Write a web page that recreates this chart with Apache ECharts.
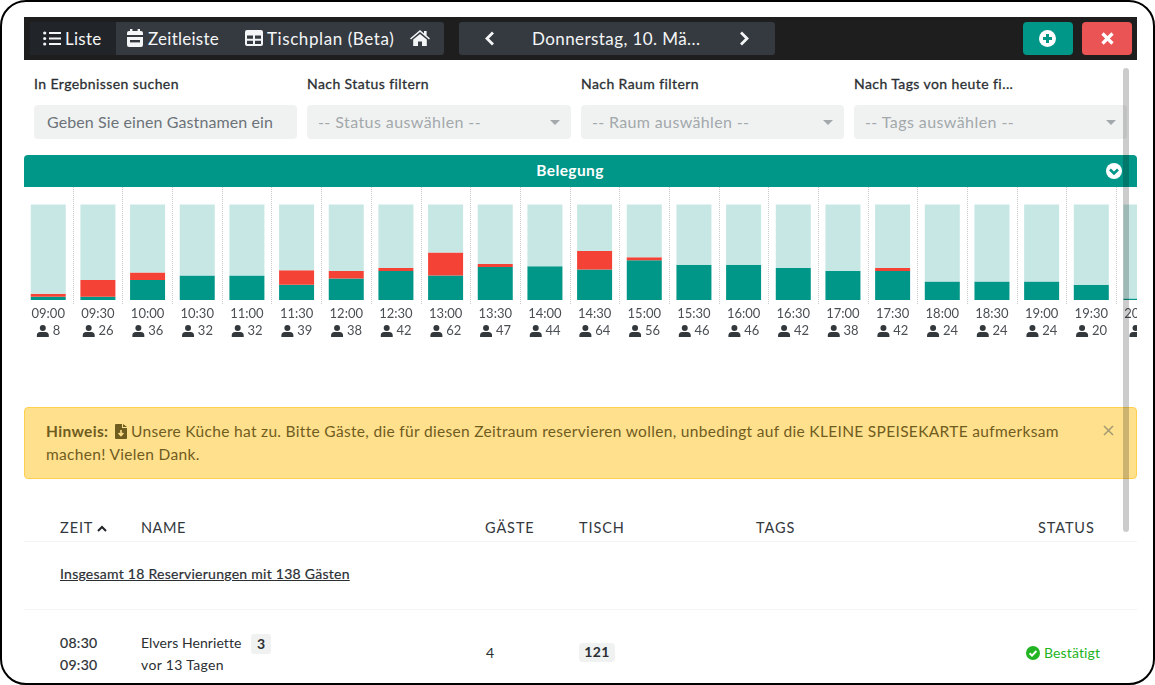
<!DOCTYPE html>
<html lang="de">
<head>
<meta charset="utf-8">
<title>Belegung</title>
<script src="https://cdn.jsdelivr.net/npm/echarts@6/dist/echarts.min.js"></script>
<style>
html,body{margin:0;padding:0;background:#fff;}
body{width:1155px;height:685px;position:relative;overflow:hidden;font-family:Lato,"Noto Sans",sans-serif;color:#212529;}
.a{position:absolute;white-space:nowrap;}
.frame{position:absolute;left:0;top:0;width:1155px;height:685px;box-sizing:border-box;border:2px solid #000;border-radius:26px;pointer-events:none;}
.nav{left:24px;top:17px;width:1113px;height:43px;background:#1e1e1e;}
.grp{top:22px;height:33px;background:#343a40;border-radius:3px;}
.nt{top:22px;height:33px;line-height:33px;color:#f4f5f6;font-size:17px;letter-spacing:.25px;}
.lbl{top:75px;font-size:14px;color:#2b2f33;line-height:17px;letter-spacing:.42px;-webkit-text-stroke:.3px #2b2f33;}
.sel{top:105px;height:34px;line-height:33px;background:#f0f2f2;border-radius:4px;color:#a3a8ab;font-size:16px;box-sizing:border-box;letter-spacing:.42px;}
.car{top:120px;width:0;height:0;border-left:5px solid transparent;border-right:5px solid transparent;border-top:5px solid #a3a8ab;}
.th{top:519px;line-height:17px;font-size:14.5px;color:#33383c;letter-spacing:.9px;}
.hr{left:24px;width:1113px;height:1px;background:#f3f4f4;}
.td{font-size:14px;line-height:18px;color:#2b2f33;}
svg{display:block;}
</style>
</head>
<body>
<div class="a nav"></div>
<div class="a grp" style="left:30px;width:414px"></div>
<div class="a grp" style="left:30px;width:86px;background:#212529;border-radius:3px 0 0 3px"></div>
<svg class="a" style="left:43px;top:31px" width="18" height="15" viewBox="0 0 18 15"><g fill="#f4f5f6"><circle cx="1.7" cy="2" r="1.6"/><circle cx="1.7" cy="7.5" r="1.6"/><circle cx="1.7" cy="13" r="1.6"/><rect x="6" y="1" width="12" height="2"/><rect x="6" y="6.5" width="12" height="2"/><rect x="6" y="12" width="12" height="2"/></g></svg>
<div class="a nt" style="left:65px">Liste</div>
<svg class="a" style="left:127px;top:29px" width="16" height="18" viewBox="0 0 16 18"><g fill="#f4f5f6"><rect x="3" y="0" width="2.4" height="4"/><rect x="10.6" y="0" width="2.4" height="4"/><path d="M0 4q0-2 2-2h12q2 0 2 2v2H0zM0 8h16v8q0 2-2 2H2q-2 0-2-2z"/></g><rect x="3" y="11" width="10" height="2.4" fill="#343a40"/></svg>
<div class="a nt" style="left:148px">Zeitleiste</div>
<svg class="a" style="left:245px;top:30px" width="18" height="16" viewBox="0 0 18 16"><path fill="#f4f5f6" fill-rule="evenodd" d="M2 0h14q2 0 2 2v12q0 2-2 2H2q-2 0-2-2V2q0-2 2-2zM2 5.5v3.2h6V5.5zM10 5.5v3.2h6V5.5zM2 10.7V14h6v-3.3zM10 10.7V14h6v-3.3z"/></svg>
<div class="a nt" style="left:267px;letter-spacing:.58px">Tischplan (Beta)</div>
<svg class="a" style="left:410px;top:30px" width="20" height="16" viewBox="0 0 20 16"><path fill="#f4f5f6" d="M10 0l4 3.4V1h2.6v4.6L20 8.4l-1 1.2L10 2 1 9.6 0 8.4zM3.2 9.6L10 4l6.8 5.6V16h-4.8v-4.5H8V16H3.2z"/></svg>
<div class="a grp" style="left:459px;width:316px"></div>
<svg class="a" style="left:484px;top:31px" width="11" height="15" viewBox="0 0 11 15"><path fill="none" stroke="#f4f5f6" stroke-width="2.8" d="M9 1.5L3 7.5l6 6"/></svg>
<div class="a nt" style="left:532px;letter-spacing:.42px">Donnerstag, 10. Mä...</div>
<svg class="a" style="left:739px;top:31px" width="11" height="15" viewBox="0 0 11 15"><path fill="none" stroke="#f4f5f6" stroke-width="2.8" d="M2 1.5l6 6-6 6"/></svg>
<div class="a" style="left:1023px;top:22px;width:50px;height:33px;background:#009688;border-radius:4px"></div>
<svg class="a" style="left:1039px;top:30px" width="17" height="17" viewBox="0 0 17 17"><circle cx="8.5" cy="8.5" r="8.5" fill="#fff"/><path stroke="#009688" stroke-width="3" d="M8.5 4v9M4 8.5h9"/></svg>
<div class="a" style="left:1082px;top:22px;width:50px;height:33px;background:#ea5455;border-radius:4px"></div>
<svg class="a" style="left:1101px;top:32px" width="13" height="13" viewBox="0 0 13 13"><path stroke="#fff" stroke-width="3.2" d="M1.5 1.5l10 10M11.5 1.5l-10 10"/></svg>

<div class="a lbl" style="left:34px">In Ergebnissen suchen</div>
<div class="a lbl" style="left:307px">Nach Status filtern</div>
<div class="a lbl" style="left:581px">Nach Raum filtern</div>
<div class="a lbl" style="left:854px">Nach Tags von heute fi...</div>
<div class="a sel" style="left:34px;width:263px;padding-left:13px;color:#6c7378;letter-spacing:.1px">Geben Sie einen Gastnamen ein</div>
<div class="a sel" style="left:307px;width:264px;padding-left:11px">-- Status auswählen --</div>
<div class="a sel" style="left:581px;width:263px;padding-left:11px;letter-spacing:.35px">-- Raum auswählen --</div>
<div class="a sel" style="left:854px;width:273px;padding-left:11px">-- Tags auswählen --</div>
<div class="a car" style="left:550px"></div>
<div class="a car" style="left:823px"></div>
<div class="a car" style="left:1106px"></div>

<div class="a" style="left:24px;top:155px;width:1113px;height:32px;background:#009688;border-radius:4px 4px 0 0"></div>
<div class="a" style="left:24px;top:154px;width:1092px;height:32px;line-height:32px;text-align:center;color:#fff;font-size:15.5px;font-weight:700;letter-spacing:.4px">Belegung</div>
<svg class="a" style="left:1106px;top:163px" width="16" height="16" viewBox="0 0 16 16"><circle cx="8" cy="8" r="8" fill="#fff"/><path fill="none" stroke="#009688" stroke-width="2.6" d="M4 6.5l4 4 4-4"/></svg>

<!-- chart is cut off at the right edge like the scrolling strip -->
<div class="a" style="left:24px;top:187px;width:1113px;height:160px;overflow:hidden">
  <div id="belegung" style="position:absolute;left:-1px;top:0;width:1145px;height:160px"></div>
</div>

<div class="a" style="left:24px;top:407px;width:1113px;height:72px;box-sizing:border-box;background:#ffe08c;border:1px solid #ffd050;border-radius:4px"></div>
<div class="a" style="left:46px;top:420px;font-size:15.5px;line-height:23px;color:#6f5c1f;letter-spacing:.32px"><b>Hinweis:</b> <span style="display:inline-block;width:14px"></span> Unsere Küche hat zu. Bitte Gäste, die für diesen Zeitraum reservieren wollen, unbedingt auf die KLEINE SPEISEKARTE aufmerksam<br>machen! Vielen Dank.</div>
<svg class="a" style="left:115px;top:424px" width="12" height="15" viewBox="0 0 12 15"><path fill="#6f5c1f" d="M0 1q0-1 1-1h6v4h5v10q0 1-1 1H1q-1 0-1-1zM8 0l4 3H8z"/><path fill="none" stroke="#ffe08c" stroke-width="1.6" d="M6 6v5M3.6 9L6 11.5 8.4 9"/></svg>
<svg class="a" style="left:1103px;top:425px" width="11" height="11" viewBox="0 0 11 11"><path stroke="#a39a72" stroke-width="1.5" d="M1 1l9 9M10 1l-9 9"/></svg>

<div class="a th" style="left:60px">ZEIT</div>
<svg class="a" style="left:97px;top:525px" width="10" height="7" viewBox="0 0 10 7"><path fill="none" stroke="#212529" stroke-width="2" d="M1 6l4-4 4 4"/></svg>
<div class="a th" style="left:141px;letter-spacing:.55px">NAME</div>
<div class="a th" style="left:485px">GÄSTE</div>
<div class="a th" style="left:579px">TISCH</div>
<div class="a th" style="left:756px">TAGS</div>
<div class="a th" style="left:1038px">STATUS</div>
<div class="a hr" style="top:541px"></div>
<div class="a td" style="left:60px;top:565px;text-decoration:underline;letter-spacing:.26px;-webkit-text-stroke:.2px #2b2f33">Insgesamt 18 Reservierungen mit 138 Gästen</div>
<div class="a hr" style="top:609px"></div>
<div class="a td" style="left:60px;top:634px;letter-spacing:.3px;-webkit-text-stroke:.2px #2b2f33">08:30</div>
<div class="a td" style="left:60px;top:656px;letter-spacing:.3px;-webkit-text-stroke:.2px #2b2f33">09:30</div>
<div class="a td" style="left:141px;top:634px;letter-spacing:.07px">Elvers Henriette</div>
<div class="a" style="left:251px;top:634px;width:20px;height:20px;line-height:19px;text-align:center;background:#f0f1f1;border-radius:3px;font-size:14px;font-weight:700;color:#2b2f33">3</div>
<div class="a td" style="left:141px;top:656px;letter-spacing:.35px">vor 13 Tagen</div>
<div class="a td" style="left:486px;top:644px">4</div>
<div class="a" style="left:579px;top:643px;width:36px;height:19px;line-height:17px;text-align:center;background:#f0f1f1;border-radius:4px;font-size:14px;font-weight:700;color:#2b2f33;letter-spacing:.3px">121</div>
<svg class="a" style="left:1026px;top:646px" width="14" height="14" viewBox="0 0 14 14"><circle cx="7" cy="7" r="7" fill="#22b422"/><path fill="none" stroke="#fff" stroke-width="2" d="M3.6 7.2l2.4 2.4 4.4-4.6"/></svg>
<div class="a td" style="left:1044px;top:644px;color:#22b422;letter-spacing:.12px">Bestätigt</div>

<div class="a" style="left:1123px;top:68px;width:6px;height:464px;background:rgba(0,0,0,.2);border-radius:3px"></div>
<div class="frame"></div>

<script>
// Zeiten und Gäste pro Slot
var zeiten = ['09:00','09:30','10:00','10:30','11:00','11:30','12:00','12:30','13:00','13:30','14:00','14:30','15:00','15:30','16:00','16:30','17:00','17:30','18:00','18:30','19:00','19:30','20:00'];
var gaeste = [8,26,36,32,32,39,38,42,62,47,44,64,56,46,46,42,38,42,24,24,24,20,2];
var belegt = [4,4,26,32,32,20,28,38,32,43,44,40,52,46,46,42,38,38,24,24,24,20,2];
var offen  = [4,22,10,0,0,19,10,4,30,4,0,24,4,0,0,0,0,4,0,0,0,0,0];
var frei   = [117,99,89,93,93,86,87,83,63,78,81,61,69,79,79,83,87,83,101,101,101,105,123];

var personIcon = 'data:image/svg+xml;utf8,' + encodeURIComponent(
    '<svg xmlns="http://www.w3.org/2000/svg" width="26" height="24" viewBox="0 0 13 12">' +
    '<circle cx="6.5" cy="3" r="3" fill="#33383c"/>' +
    '<path d="M0.5 12v-1.5Q0.5 7 4 7h5q3.5 0 3.5 3.5V12z" fill="#33383c"/></svg>');

var myChart = echarts.init(document.getElementById('belegung'));
var option = {
    animation: false,
    grid: {
        left: 0.4,
        top: 0,
        width: 1142.4,
        height: 117.5
    },
    xAxis: {
        type: 'category',
        data: zeiten,
        axisLine: {show: false, onZero: false},
        axisTick: {show: false},
        splitLine: {
            show: true,
            interval: 0,
            showMinLine: false,
            lineStyle: {color: '#c8c8c8', type: 'dotted', width: 1}
        },
        axisLabel: {
            interval: 0,
            margin: 1,
            color: '#4a4f54',
            fontFamily: 'Lato',
            fontSize: 13,
            lineHeight: 17,
            formatter: function (value, index) {
                return value + '\n{icon|}{n| ' + gaeste[index] + '}';
            },
            rich: {
                icon: {
                    width: 13,
                    height: 12,
                    backgroundColor: {image: personIcon}
                },
                n: {
                    color: '#4a4f54',
                    fontFamily: 'Lato',
                    fontSize: 13,
                    lineHeight: 17
                }
            }
        }
    },
    yAxis: {
        type: 'value',
        min: -6,
        max: 148,
        show: false
    },
    series: [
        {name: 'Belegt', type: 'bar', stack: 'slot', barWidth: 35, data: belegt, itemStyle: {color: '#009688'}},
        {name: 'Offen', type: 'bar', stack: 'slot', barWidth: 35, data: offen, itemStyle: {color: '#f44336'}},
        {name: 'Frei', type: 'bar', stack: 'slot', barWidth: 35, data: frei, itemStyle: {color: '#c6e7e3'}}
    ]
};
myChart.setOption(option);
</script>
</body>
</html>
